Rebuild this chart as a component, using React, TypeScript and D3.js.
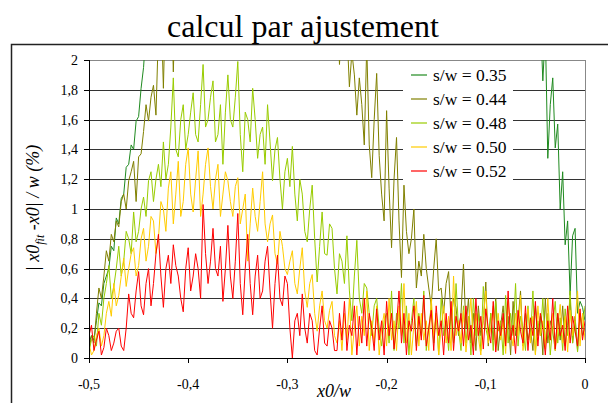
import React from 'react';
import * as d3 from 'd3';

// x sampling of the fit: -0.5 .. 0, step 0.0025 (201 points)
const xGrid = d3.range(201).map(i => -0.5 + i * 0.0025);

// values above 2 are cut by the plot area, like the original
const sw035 = [
  0.1, 0.15, 0.12, 0.25, 0.37, 0.35, 0.5, 0.55, 0.6, 0.75,
  0.72, 0.94, 0.9, 1.07, 1.1, 1.28, 1.3, 1.43, 1.4, 1.59,
  1.62, 1.81, 1.95, 2.2,
  2.6, 3.0, 3.3, 3.1, 3.5, 3.2, 3.6, 3.3, 3.1, 3.4,
  3.2, 3.5, 3.3, 3.6, 3.4, 3.2, 3.5, 3.3, 3.6, 3.4,
  3.2, 3.5, 3.3, 3.6, 3.4, 3.2, 3.5, 3.3, 3.6, 3.4,
  3.2, 3.5, 3.3, 3.6, 3.4, 3.2, 3.5, 3.3, 3.6, 3.4,
  3.2, 3.5, 3.3, 3.6, 3.4, 3.2, 3.5, 3.3, 3.6, 3.4,
  3.2, 3.5, 3.3, 3.6, 3.4, 3.2, 3.5, 3.3, 3.6, 3.4,
  3.2, 3.5, 3.3, 3.6, 3.4, 3.2, 3.5, 3.3, 3.6, 3.4,
  3.2, 3.5, 3.3, 3.6, 3.4, 3.2, 3.5, 3.3, 3.6, 3.4,
  3.2, 3.5, 3.3, 3.6, 3.4, 3.2, 3.5, 3.3, 3.6, 3.4,
  3.2, 3.5, 3.3, 3.6, 3.4, 3.2, 3.5, 3.3, 3.6, 3.4,
  3.2, 3.5, 3.3, 3.6, 3.4, 3.2, 3.5, 3.3, 3.6, 3.4,
  3.2, 3.5, 3.3, 3.6, 3.4, 3.2, 3.5, 3.3, 3.6, 3.4,
  3.2, 3.5, 3.3, 3.6, 3.4, 3.2, 3.5, 3.3, 3.6, 3.4,
  3.2, 3.5, 3.3, 3.6, 3.4, 3.2, 3.5, 3.3, 3.6, 3.4,
  3.2, 3.5, 3.3, 3.6, 3.4, 3.2, 3.5, 3.3, 3.6, 3.4,
  3.3, 3.6, 3.4, 3.1, 3.0, 3.4,
  3.2, 2.8, 2.3, 1.86, 2.2, 1.34, 1.7, 1.88, 1.41, 1.57,
  1.0, 1.25, 0.76, 0.92, 0.42, 0.82, 0.87, 0.3, 0.38, 0.34,
  0.25,
];

const sw044 = [
  0.05, 0.15, 0.1, 0.3, 0.47, 0.4, 0.55, 0.72, 0.65, 0.83,
  0.78, 0.92, 0.88, 1.05, 1.1, 1.0, 1.19, 1.25, 1.32, 1.05,
  1.35, 1.37, 1.52, 1.7, 1.59, 1.75, 1.83, 1.63, 2.2, 2.4,
  1.81, 2.5, 2.3, 2.6, 1.92, 2.5,
  3.0, 3.2, 3.1, 3.4, 3.2, 3.5, 3.3, 3.1, 3.4, 3.2,
  3.5, 3.3, 3.1, 3.4, 3.2, 3.5, 3.3, 3.1, 3.4, 3.2,
  3.5, 3.3, 3.1, 3.4, 3.2, 3.5, 3.3, 3.1, 3.4, 3.2,
  3.5, 3.3, 3.1, 3.4, 3.2, 3.5, 3.3, 3.1, 3.4, 3.2,
  3.5, 3.3, 3.1, 3.4, 3.2, 3.5, 3.3, 3.1, 3.4, 3.2,
  3.5, 3.3, 3.1, 3.4, 3.2, 3.0, 2.9, 2.7, 2.8, 2.6,
  2.9, 2.6, 2.8, 2.5,
  2.4, 1.97, 2.3, 2.1, 2.2, 1.82, 2.05, 1.9, 1.63, 1.88,
  1.7, 1.43, 2.1, 1.43, 1.21, 1.6, 1.91, 1.36, 1.1, 0.92,
  1.66, 1.14, 0.74, 1.2, 1.48, 0.92, 0.54, 1.16, 0.85, 0.7,
  0.8, 1.0, 0.47, 0.65, 0.55, 0.83, 0.6, 0.47, 0.35, 0.6,
  0.8, 0.45, 0.47, 0.3, 0.5, 0.58, 0.25, 0.4, 0.34, 0.15,
  0.3, 0.63, 0.2,
  0.4, 0.1, 0.3, 0.05, 0.35, 0.15, 0.25, 0.51, 0.08, 0.3,
  0.12, 0.4, 0.05, 0.22, 0.35, 0.1, 0.28, 0.02, 0.38, 0.15,
  0.25, 0.45, 0.08, 0.3, 0.12, 0.2, 0.05, 0.35, 0.15, 0.28,
  0.02, 0.4, 0.1, 0.25, 0.18, 0.05, 0.3, 0.12, 0.35, 0.08,
  0.22, 0.4, 0.1, 0.28, 0.05, 0.3, 0.15, 0.2,
];

const sw048 = [
  0.05, 0.12, 0.15, 0.08, 0.3, 0.22, 0.4, 0.5, 0.62, 0.4,
  0.48, 0.6, 0.75, 0.55, 0.65, 0.85, 0.8, 0.7, 0.98, 0.78,
  0.85, 1.0, 1.08, 0.95, 1.19, 1.25, 1.05, 1.2, 1.3, 1.15,
  1.45, 1.2, 1.3, 1.55, 1.88, 1.4, 1.35, 1.6, 1.7, 1.4,
  1.5, 1.65, 1.78, 1.5, 1.45, 1.7, 1.97, 1.55, 1.6, 1.75,
  1.86, 1.45, 1.5, 1.7, 1.3, 1.65, 1.9, 1.6, 1.55, 1.75,
  1.99, 1.5, 1.25, 1.65, 1.6, 1.45, 1.81, 1.6, 1.34, 1.5,
  1.55, 1.3, 1.7, 1.45, 1.19, 1.4, 1.48, 1.2, 1.0, 1.25,
  1.34, 1.15, 1.42, 1.1, 0.92, 1.2, 1.1, 0.85, 0.78, 1.0,
  1.16, 0.8, 0.51, 0.75, 0.98, 0.7, 0.69, 0.9, 0.87, 0.6,
  0.43, 0.7, 0.65, 0.5, 0.82, 0.45, 0.25, 0.55, 0.79, 0.4,
  0.3, 0.5, 0.47, 0.3, 0.15, 0.35, 0.4, 0.2, 0.08, 0.25,
  0.3,
  0.1, 0.45, 0.05, 0.3, 0.2, 0.5, 0.1, 0.35, 0.02, 0.25,
  0.4, 0.08, 0.3, 0.15, 0.45, 0.05, 0.2, 0.35, 0.1, 0.3,
  0.02, 0.4, 0.15, 0.25, 0.05, 0.3, 0.1, 0.5, 0.2, 0.05,
  0.35, 0.1, 0.28, 0.02, 0.4, 0.15, 0.3, 0.05, 0.48, 0.2,
  0.12, 0.3, 0.05, 0.38, 0.18, 0.25, 0.02, 0.42, 0.1, 0.3,
  0.15, 0.5, 0.08, 0.28, 0.2, 0.05, 0.35, 0.12, 0.45, 0.03,
  0.25, 0.15, 0.4, 0.08, 0.3, 0.02, 0.22, 0.38, 0.1, 0.27,
  0.05, 0.33, 0.15, 0.45, 0.1, 0.25, 0.04, 0.3, 0.2, 0.35,
];

const sw050 = [
  0.1, 0.02, 0.05, 0.15, 0.2, 0.08, 0.15, 0.3, 0.38, 0.28,
  0.5, 0.35, 0.42, 0.55, 0.67, 0.48, 0.6, 0.7, 0.74, 0.55,
  0.62, 0.8, 0.87, 0.65, 0.75, 0.95, 0.92, 0.7, 0.8, 1.05,
  1.0, 0.85, 1.14, 1.25, 0.9, 1.1, 1.32, 0.95, 1.05, 1.3,
  1.41, 1.1, 0.98, 1.2, 1.39, 0.95, 1.1, 1.3, 1.41, 1.15,
  1.0, 1.2, 1.3, 0.95, 1.1, 1.25, 1.19, 1.05, 0.95, 1.15,
  1.21, 0.9, 1.0, 1.1, 0.65, 0.9, 1.14, 0.95, 0.85, 1.05,
  1.25, 0.9, 0.78, 0.9, 0.96, 0.7, 0.63, 0.85, 0.75, 0.6,
  0.56, 0.65, 0.72, 0.5, 0.43, 0.6, 0.74, 0.45, 0.34, 0.5,
  0.56, 0.3, 0.18, 0.35, 0.45, 0.25, 0.2, 0.32, 0.38, 0.15,
  0.1,
  0.25, 0.05, 0.3, 0.12, 0.4, 0.02, 0.2, 0.35, 0.08, 0.28,
  0.15, 0.45, 0.05, 0.25, 0.1, 0.35, 0.02, 0.2, 0.3, 0.08,
  0.4, 0.12, 0.25, 0.05, 0.35, 0.15, 0.5, 0.1, 0.3, 0.02,
  0.22, 0.38, 0.08, 0.3, 0.12, 0.25, 0.05, 0.4, 0.15, 0.3,
  0.02, 0.2, 0.35, 0.1, 0.28, 0.05, 0.55, 0.15, 0.25, 0.1,
  0.32, 0.04, 0.22, 0.4, 0.08, 0.3, 0.14, 0.02, 0.27, 0.45,
  0.1, 0.2, 0.35, 0.05, 0.3, 0.12, 0.25, 0.03, 0.38, 0.18,
  0.08, 0.3, 0.15, 0.42, 0.05, 0.22, 0.33, 0.1, 0.28, 0.02,
  0.35, 0.15, 0.25, 0.06, 0.4, 0.12, 0.3, 0.05, 0.2, 0.36,
  0.1, 0.28, 0.04, 0.32, 0.15, 0.25, 0.45, 0.08, 0.3, 0.12,
];

const sw052 = [
  0.15, 0.22, 0.05, 0.12, 0.18, 0.02, 0.07, 0.2, 0.15, 0.05,
  0.1, 0.18, 0.2, 0.08, 0.05, 0.2, 0.43, 0.3, 0.27, 0.45,
  0.58, 0.35, 0.29, 0.5, 0.6, 0.35, 0.5, 0.7, 0.83, 0.55,
  0.34, 0.6, 0.69, 0.5, 0.76, 0.62, 0.55, 0.4, 0.31, 0.6,
  0.74, 0.45, 0.55, 0.7, 0.6, 0.4, 1.03, 0.7, 0.5, 0.65,
  0.87, 0.6, 0.55, 0.75, 0.38, 0.6, 0.89, 0.55, 0.4, 0.65,
  0.97, 0.5, 0.29, 0.6, 0.83, 0.5, 0.29, 0.55, 0.69, 0.4,
  0.45, 0.65, 0.75, 0.45, 0.2, 0.5, 0.69, 0.4, 0.35, 0.55,
  0.5, 0.2, 0.0, 0.25, 0.3, 0.15, 0.43, 0.2, 0.1, 0.3,
  0.25, 0.05, 0.02, 0.2, 0.35, 0.1, 0.08, 0.25, 0.2, 0.05,
  0.05,
  0.3, 0.12, 0.38, 0.05, 0.22, 0.15, 0.35, 0.02, 0.28, 0.1,
  0.4, 0.08, 0.3, 0.2, 0.05, 0.33, 0.12, 0.25, 0.02, 0.38,
  0.15, 0.3, 0.06, 0.22, 0.45, 0.1, 0.3, 0.02, 0.25, 0.18,
  0.35, 0.05, 0.28, 0.12, 0.42, 0.08, 0.2, 0.32, 0.05, 0.35,
  0.15, 0.25, 0.02, 0.3, 0.1, 0.38, 0.05, 0.28, 0.18, 0.3,
  0.08, 0.35, 0.12, 0.22, 0.02, 0.4, 0.15, 0.28, 0.06, 0.33,
  0.2, 0.1, 0.38, 0.04, 0.25, 0.15, 0.3, 0.08, 0.45, 0.12,
  0.22, 0.03, 0.32, 0.18, 0.1, 0.35, 0.05, 0.27, 0.15, 0.38,
  0.08, 0.3, 0.2, 0.02, 0.25, 0.12, 0.4, 0.06, 0.3, 0.15,
  0.22, 0.05, 0.35, 0.1, 0.28, 0.18, 0.08, 0.33, 0.12, 0.25,
];

const seriesNames = ['s/w = 0.35', 's/w = 0.44', 's/w = 0.48', 's/w = 0.50', 's/w = 0.52'];
const seriesValues = [sw035, sw044, sw048, sw050, sw052];
const seriesColors = ['#1f8a1f', '#808000', '#99cc00', '#ffcc00', '#ff0000'];

const xTicks = [-0.5, -0.4, -0.3, -0.2, -0.1, 0];
const xTickLabels = ['-0,5', '-0,4', '-0,3', '-0,2', '-0,1', '0'];
const yTicks = [0, 0.2, 0.4, 0.6, 0.8, 1, 1.2, 1.4, 1.6, 1.8, 2];
const yTickLabels = ['0', '0,2', '0,4', '0,6', '0,8', '1', '1,2', '1,4', '1,6', '1,8', '2'];

const font = "'Liberation Serif', 'DejaVu Serif', serif";

export default function App() {
  const width = 608;
  const height = 403;
  const plotLeft = 89;
  const plotRight = 585;
  const plotTop = 60;
  const plotBottom = 358;

  const x = d3.scaleLinear().domain([-0.5, 0]).range([plotLeft, plotRight]);
  const y = d3.scaleLinear().domain([0, 2]).range([plotBottom, plotTop]);

  const line = d3.line<number>()
    .x((_, i) => x(xGrid[i]))
    .y(d => y(d));

  return (
    <svg width={width} height={height}
      style={{ position: 'absolute', left: 0, top: 0, background: '#fff', fontFamily: font }}>
      <defs>
        <clipPath id="plot-clip">
          <rect x={plotLeft} y={plotTop} width={plotRight - plotLeft} height={plotBottom - plotTop} />
        </clipPath>
      </defs>

      {/* outer frame, runs off the page */}
      <rect x={11.5} y={44.5} width={700} height={400} fill="none" stroke="#222" strokeWidth={1.5} />

      <text x={303} y={37} textAnchor="middle" fontSize={32} fill="#000">calcul par ajustement</text>

      {/* gridlines */}
      {yTicks.slice(1, -1).map(t => (
        <line key={t} x1={plotLeft} x2={plotRight} y1={Math.round(y(t)) + 0.5} y2={Math.round(y(t)) + 0.5}
          stroke="#333" strokeWidth={1} />
      ))}
      {/* plot border top/right */}
      <line x1={plotLeft} x2={plotRight} y1={plotTop + 0.5} y2={plotTop + 0.5} stroke="#888" />
      <line x1={plotRight + 0.5} x2={plotRight + 0.5} y1={plotTop} y2={plotBottom} stroke="#888" />

      {/* series */}
      <g clipPath="url(#plot-clip)" fill="none" strokeWidth={1} strokeLinejoin="round">
        {seriesValues.map((vals, k) => (
          <path key={k} d={line(vals) || ''} stroke={seriesColors[k]} />
        ))}
      </g>

      {/* axes */}
      <line x1={plotLeft + 0.5} x2={plotLeft + 0.5} y1={plotTop} y2={plotBottom} stroke="#000" />
      <line x1={plotLeft} x2={plotRight + 1} y1={plotBottom + 0.5} y2={plotBottom + 0.5} stroke="#000" />
      {yTicks.map((t, i) => (
        <g key={t}>
          <line x1={plotLeft - 5} x2={plotLeft} y1={Math.round(y(t)) + 0.5} y2={Math.round(y(t)) + 0.5} stroke="#000" />
          <text x={78} y={y(t) + 5} textAnchor="end" fontSize={14}>{yTickLabels[i]}</text>
        </g>
      ))}
      {xTicks.map((t, i) => (
        <g key={t}>
          <line x1={Math.round(x(t)) + 0.5} x2={Math.round(x(t)) + 0.5} y1={plotBottom} y2={plotBottom + 5} stroke="#000" />
          <text x={x(t)} y={389} textAnchor="middle" fontSize={14}>{xTickLabels[i]}</text>
        </g>
      ))}

      {/* axis titles */}
      <text x={334} y={397} textAnchor="middle" fontSize={18} fontStyle="italic">x0/w</text>
      <text transform="translate(39,208) rotate(-90)" textAnchor="middle" fontSize={18} fontStyle="italic">
        | x0<tspan fontSize={12} dy={5}>fit</tspan><tspan dy={-5}> -x0| / w (%)</tspan>
      </text>

      {/* legend */}
      <rect x={403} y={63} width={110} height={120} fill="#fff" />
      {seriesNames.map((name, k) => {
        const ly = 75 + k * 24;
        return (
          <g key={name}>
            <line x1={411} x2={427} y1={ly} y2={ly} stroke={seriesColors[k]} strokeWidth={1.2} />
            <text x={433} y={ly + 6} fontSize={17.5}>{name}</text>
          </g>
        );
      })}
    </svg>
  );
}
